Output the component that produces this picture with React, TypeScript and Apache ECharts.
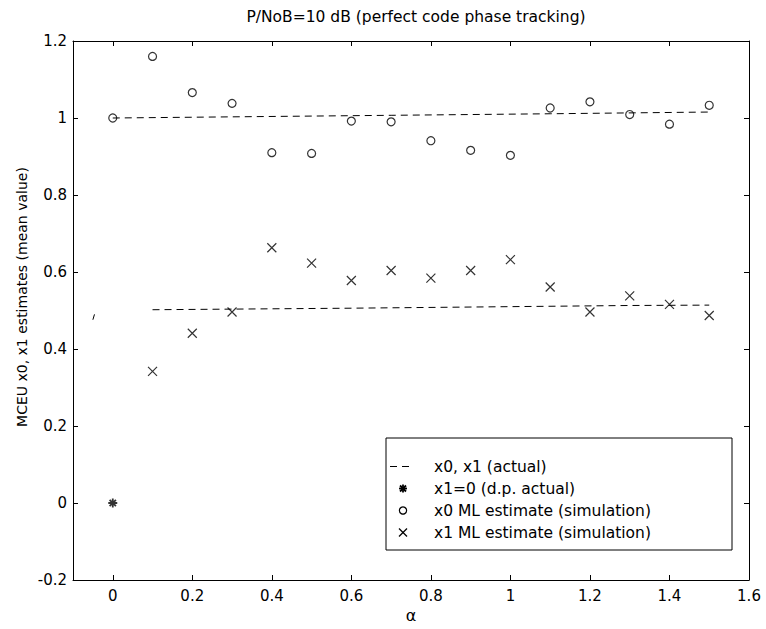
import React, { useEffect, useRef } from "react";
import * as echarts from "echarts";

const alphas = [0, 0.1, 0.2, 0.3, 0.4, 0.5, 0.6, 0.7, 0.8, 0.9, 1.0, 1.1, 1.2, 1.3, 1.4, 1.5];
const x0Estimate = [1.0, 1.16, 1.066, 1.038, 0.91, 0.908, 0.992, 0.99, 0.941, 0.916, 0.903, 1.026, 1.042, 1.009, 0.984, 1.033];
const x1Alphas = [0.1, 0.2, 0.3, 0.4, 0.5, 0.6, 0.7, 0.8, 0.9, 1.0, 1.1, 1.2, 1.3, 1.4, 1.5];
const x1Estimate = [0.342, 0.441, 0.496, 0.663, 0.623, 0.578, 0.604, 0.584, 0.604, 0.632, 0.561, 0.496, 0.538, 0.516, 0.487];
const x0ActualAlpha = [0, 0.7, 1.1, 1.5];
const x0Actual = [1.0, 1.007, 1.011, 1.0155];
const x1ActualAlpha = [0.1, 0.6, 1.3, 1.5];
const x1Actual = [0.502, 0.506, 0.513, 0.514];
const dpAlpha = [0];
const dpActual = [0];
const strayAlpha = [-0.05, -0.046];
const strayValue = [0.476, 0.49];
const xTicks = [0, 0.2, 0.4, 0.6, 0.8, 1, 1.2, 1.4, 1.6];

const titleText = "P/NoB=10 dB (perfect code phase tracking)";
const yAxisTitle = "MCEU x0, x1 estimates (mean value)";
const xAxisTitle = "α";
const legendLabels = [
  "x0, x1 (actual)",
  "x1=0 (d.p. actual)",
  "x0 ML estimate (simulation)",
  "x1 ML estimate (simulation)",
];

const FONT = "'DejaVu Sans', 'Liberation Sans', Arial, sans-serif";
const CROSS = "path://M0,0L10,10M10,0L0,10";
const STAR = "path://M5,0L5,10M0,5L10,5M1.5,1.5L8.5,8.5M8.5,1.5L1.5,8.5";

const zip = (xs: number[], ys: number[]) => xs.map((x, i) => [x, ys[i]]);

export default function App() {
  const ref = useRef<HTMLDivElement>(null);
  useEffect(() => {
    if (!ref.current) return;
    const chart = echarts.init(ref.current, null, { renderer: "svg" });
    const black = "#000";
    const fmt = (v: number) => String(Math.round(v * 10) / 10);
    const tickStyle = { show: true, inside: true, length: 5, lineStyle: { color: black, width: 1 } };
    const axisLine = { show: true, onZero: false, lineStyle: { color: black, width: 1 } };

    const lx = 386, ly = 438, lw = 346, lh = 112;
    const rowY = [466.5, 488.5, 510.5, 532.5];
    const textX = 434;
    const symX = 403;
    const lz = 110;

    chart.setOption({
      animation: false,
      backgroundColor: "#fff",
      title: {
        text: titleText,
        left: 411,
        top: 4,
        textAlign: "center",
        textStyle: { fontFamily: FONT, fontSize: 15.5, fontWeight: "normal", color: black },
      },
      grid: { left: 73, right: 17, top: 41, bottom: 49 },
      xAxis: [
        {
          type: "value",
          min: -0.1,
          max: 1.6,
          name: xAxisTitle,
          nameLocation: "middle",
          nameGap: 19,
          nameTextStyle: { fontFamily: FONT, fontSize: 16, color: black },
          axisLine,
          axisTick: { ...tickStyle, customValues: xTicks },
          axisLabel: { customValues: xTicks, formatter: fmt, fontFamily: FONT, fontSize: 15, color: black, margin: 8 },
          splitLine: { show: false },
        },
        {
          type: "value",
          position: "top",
          min: -0.1,
          max: 1.6,
          axisLine,
          axisTick: { ...tickStyle, customValues: xTicks },
          axisLabel: { show: false, customValues: xTicks },
          splitLine: { show: false },
        },
      ],
      yAxis: [
        {
          type: "value",
          min: -0.2,
          max: 1.2,
          interval: 0.2,
          axisLine,
          axisTick: tickStyle,
          axisLabel: { formatter: fmt, fontFamily: FONT, fontSize: 15, color: black, margin: 6 },
          splitLine: { show: false },
        },
        {
          type: "value",
          position: "right",
          min: -0.2,
          max: 1.2,
          interval: 0.2,
          axisLine,
          axisTick: tickStyle,
          axisLabel: { show: false },
          splitLine: { show: false },
        },
      ],
      series: [
        {
          type: "line",
          data: zip(x0ActualAlpha, x0Actual),
          symbol: "none",
          lineStyle: { color: black, width: 1, type: [7, 5] },
          silent: true,
        },
        {
          type: "line",
          data: zip(x1ActualAlpha, x1Actual),
          symbol: "none",
          lineStyle: { color: black, width: 1, type: [7, 5] },
          silent: true,
        },
        {
          type: "line",
          data: zip(strayAlpha, strayValue),
          symbol: "none",
          lineStyle: { color: black, width: 1 },
          silent: true,
        },
        {
          type: "scatter",
          data: zip(dpAlpha, dpActual),
          symbol: STAR,
          symbolSize: 9,
          itemStyle: { color: "none", borderColor: black, borderWidth: 1.8 },
          silent: true,
        },
        {
          type: "scatter",
          data: zip(alphas, x0Estimate),
          symbol: "circle",
          symbolSize: 8,
          itemStyle: { color: "#fff", borderColor: black, borderWidth: 1.2 },
          silent: true,
        },
        {
          type: "scatter",
          data: zip(x1Alphas, x1Estimate),
          symbol: CROSS,
          symbolSize: 9,
          itemStyle: { color: "none", borderColor: black, borderWidth: 1.2 },
          silent: true,
        },
      ],
      graphic: [
        {
          type: "text",
          x: 22,
          y: 297,
          rotation: Math.PI / 2,
          style: {
            text: yAxisTitle,
            fontFamily: FONT,
            fontSize: 14,
            fill: black,
            align: "center",
            verticalAlign: "middle",
          },
        },
        {
          type: "rect",
          shape: { x: lx, y: ly, width: lw, height: lh },
          style: { fill: "#fff", stroke: black, lineWidth: 1 },
          z: 100,
        },
        {
          type: "line",
          shape: { x1: 390, y1: rowY[0], x2: 413, y2: rowY[0] },
          style: { stroke: black, lineWidth: 1, lineDash: [7, 5] },
          z: lz,
        },
        { type: "line", z: lz, shape: { x1: symX - 4, y1: rowY[1], x2: symX + 4, y2: rowY[1] }, style: { stroke: black, lineWidth: 1.8 } },
        { type: "line", z: lz, shape: { x1: symX, y1: rowY[1] - 4, x2: symX, y2: rowY[1] + 4 }, style: { stroke: black, lineWidth: 1.8 } },
        { type: "line", z: lz, shape: { x1: symX - 3, y1: rowY[1] - 3, x2: symX + 3, y2: rowY[1] + 3 }, style: { stroke: black, lineWidth: 1.8 } },
        { type: "line", z: lz, shape: { x1: symX + 3, y1: rowY[1] - 3, x2: symX - 3, y2: rowY[1] + 3 }, style: { stroke: black, lineWidth: 1.8 } },
        {
          type: "circle",
          shape: { cx: symX, cy: rowY[2], r: 3.6 },
          style: { fill: "#fff", stroke: black, lineWidth: 1.2 },
          z: lz,
        },
        { type: "line", z: lz, shape: { x1: symX - 4, y1: rowY[3] - 4, x2: symX + 4, y2: rowY[3] + 4 }, style: { stroke: black, lineWidth: 1.2 } },
        { type: "line", z: lz, shape: { x1: symX + 4, y1: rowY[3] - 4, x2: symX - 4, y2: rowY[3] + 4 }, style: { stroke: black, lineWidth: 1.2 } },
        ...legendLabels.map((t, i) => ({
          type: "text",
          x: textX,
          y: rowY[i],
          z: lz,
          style: {
            text: t,
            fontFamily: FONT,
            fontSize: 15.5,
            fill: black,
            verticalAlign: "middle",
          },
        })),
      ],
    });
    return () => chart.dispose();
  }, []);
  return <div ref={ref} style={{ width: 766, height: 629, position: "absolute", left: 0, top: 0 }} />;
}
